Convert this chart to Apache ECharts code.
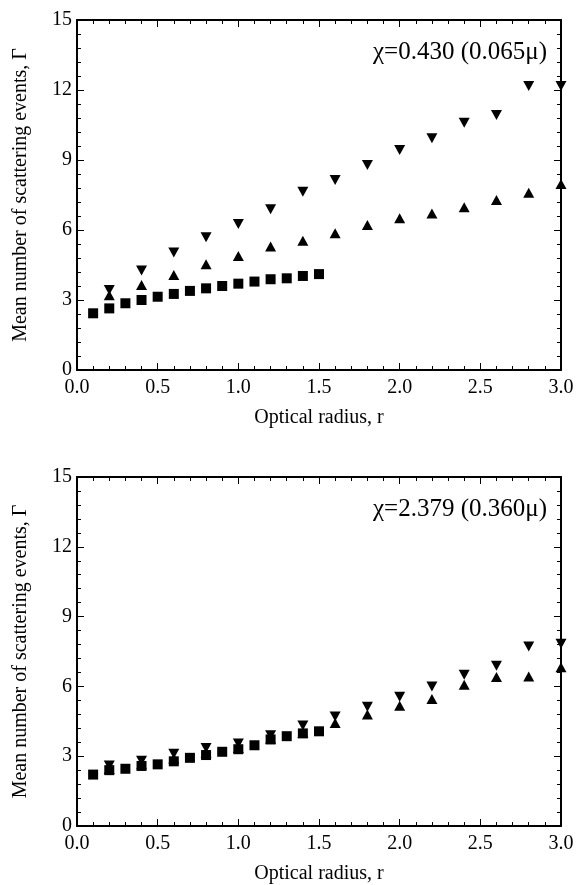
<!DOCTYPE html>
<html>
<head>
<meta charset="utf-8">
<script src="https://cdn.jsdelivr.net/npm/echarts@6/dist/echarts.min.js"></script>
<style>
html,body{margin:0;padding:0;background:#fff;}
#chart{width:577px;height:885px;}
</style>
</head>
<body>
<div id="chart"></div>
<script>
// Optical radius values
const rSquares = [0.1,0.2,0.3,0.4,0.5,0.6,0.7,0.8,0.9,1.0,1.1,1.2,1.3,1.4,1.5];
const rTriangles = [0.2,0.4,0.6,0.8,1.0,1.2,1.4,1.6,1.8,2.0,2.2,2.4,2.6,2.8,3.0];

// Top panel: chi = 0.430 (0.065 micron)
const topSquares = [2.43,2.64,2.86,3.0,3.14,3.26,3.39,3.5,3.6,3.7,3.79,3.89,3.93,4.03,4.11];
const topUp = [3.2,3.64,4.07,4.53,4.89,5.29,5.54,5.86,6.21,6.5,6.71,6.97,7.29,7.6,7.97];
const topDown = [3.43,4.26,5.04,5.69,6.26,6.89,7.64,8.14,8.79,9.43,9.93,10.6,10.93,12.17,12.17];

// Bottom panel: chi = 2.379 (0.360 micron)
const botSquares = [2.21,2.40,2.46,2.58,2.65,2.78,2.93,3.05,3.19,3.3,3.47,3.72,3.86,3.98,4.07];
const botUp = [2.45,2.65,2.9,3.15,3.35,3.75,4.0,4.43,4.79,5.17,5.46,6.07,6.4,6.43,6.82];
const botDown = [2.6,2.8,3.1,3.35,3.55,3.9,4.32,4.71,5.12,5.55,6.0,6.5,6.89,7.71,7.83];

const xTicks = [0.0,0.5,1.0,1.5,2.0,2.5,3.0];
const yTicks = [0,3,6,9,12,15];
const annotations = ['χ=0.430 (0.065μ)', 'χ=2.379 (0.360μ)'];
const xTitle = 'Optical radius, r';
const yTitle = 'Mean number of scattering events, Γ';

const FONT = '"Liberation Serif", "DejaVu Serif", serif';
const pair = (xs, ys) => xs.map((x, i) => [x, ys[i]]);

const chart = echarts.init(document.getElementById('chart'));

const gridTops = [20, 477];
const grids = gridTops.map(t => ({left: 77, top: t, width: 484, height: 350, containLabel: false}));

const axisLine = {show: true, onZero: false, lineStyle: {color: '#000', width: 2}};
const tickStyle = {color: '#000', width: 1};

const xAxes = [], yAxes = [];
gridTops.forEach((t, g) => {
  xAxes.push({
    gridIndex: g, type: 'value', min: 0, max: 3, interval: 0.5, position: 'bottom',
    name: xTitle, nameLocation: 'middle', nameGap: 38,
    nameTextStyle: {fontFamily: FONT, fontSize: 20, color: '#000'},
    axisLine: axisLine,
    axisTick: {show: true, inside: true, length: 7, lineStyle: tickStyle},
    minorTick: {show: true, splitNumber: 5, length: 4, lineStyle: tickStyle},
    axisLabel: {fontFamily: FONT, fontSize: 20, color: '#000', margin: 8,
      formatter: v => xTicks.includes(v) ? v.toFixed(1) : ''},
    splitLine: {show: false}
  });
  xAxes.push({
    gridIndex: g, type: 'value', min: 0, max: 3, interval: 0.5, position: 'top',
    axisLine: axisLine,
    axisTick: {show: true, inside: true, length: 7, lineStyle: tickStyle},
    minorTick: {show: true, splitNumber: 5, length: 4, lineStyle: tickStyle},
    axisLabel: {show: false}, splitLine: {show: false}
  });
  yAxes.push({
    gridIndex: g, type: 'value', min: 0, max: 15, interval: 3, position: 'left',
    name: yTitle, nameLocation: 'middle', nameGap: 46,
    nameTextStyle: {fontFamily: FONT, fontSize: 20, color: '#000'},
    axisLine: axisLine,
    axisTick: {show: true, inside: true, length: 7, lineStyle: tickStyle},
    minorTick: {show: true, splitNumber: 5, length: 4, lineStyle: tickStyle},
    axisLabel: {fontFamily: FONT, fontSize: 20, color: '#000', margin: 5,
      formatter: v => yTicks.includes(v) ? String(v) : ''},
    splitLine: {show: false}
  });
  yAxes.push({
    gridIndex: g, type: 'value', min: 0, max: 15, interval: 3, position: 'right',
    axisLine: axisLine,
    axisTick: {show: true, inside: true, length: 7, lineStyle: tickStyle},
    minorTick: {show: true, splitNumber: 5, length: 4, lineStyle: tickStyle},
    axisLabel: {show: false}, splitLine: {show: false}
  });
});

const downTri = 'path://M0,0 L10,0 L5,9 Z';
const upTri = 'path://M5,0 L10,9 L0,9 Z';

function panelSeries(g, sq, up, down) {
  const base = {type: 'scatter', xAxisIndex: g * 2, yAxisIndex: g * 2, clip: false,
    itemStyle: {color: '#000', opacity: 1}, emphasis: {disabled: true}};
  return [
    Object.assign({}, base, {name: 'square' + g, symbol: 'rect', symbolSize: 10, data: pair(rSquares, sq)}),
    Object.assign({}, base, {name: 'up' + g, symbol: upTri, symbolSize: [11, 10], data: pair(rTriangles, up)}),
    Object.assign({}, base, {name: 'down' + g, symbol: downTri, symbolSize: [11, 10], data: pair(rTriangles, down)})
  ];
}

const series = [].concat(
  panelSeries(0, topSquares, topUp, topDown),
  panelSeries(1, botSquares, botUp, botDown)
);

const graphic = annotations.map((txt, i) => ({
  type: 'text', right: 30, top: gridTops[i] + 20,
  style: {text: txt, fontFamily: FONT, fontSize: 25, fill: '#000'}
}));

chart.setOption({
  animation: false,
  backgroundColor: '#fff',
  grid: grids,
  xAxis: xAxes,
  yAxis: yAxes,
  series: series,
  graphic: graphic
});
</script>
</body>
</html>
